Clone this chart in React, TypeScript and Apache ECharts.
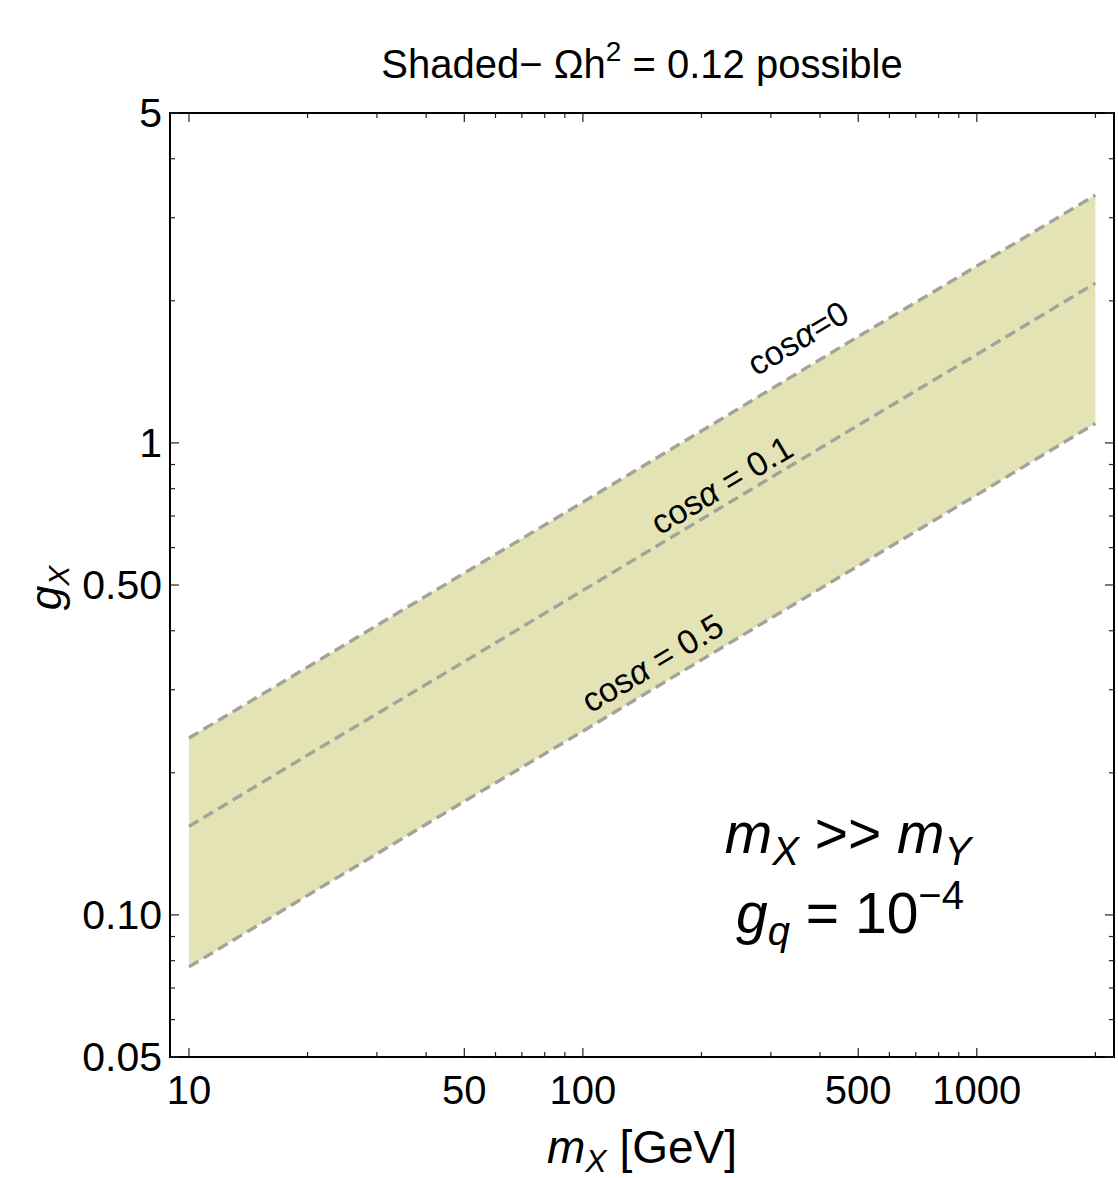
import React, { useEffect, useRef } from "react";
import * as echarts from "echarts";

// ---- data ----
const MASS = [10, 20, 50, 100, 200, 500, 1000, 2000];
const G_COS0 = [0.237, 0.335, 0.53, 0.749, 1.06, 1.68, 2.37, 3.35];
const G_COS01 = [0.154, 0.218, 0.344, 0.487, 0.689, 1.09, 1.54, 2.18];
const G_COS05 = [0.0776, 0.11, 0.174, 0.245, 0.347, 0.549, 0.776, 1.1];

const X_MIN = 8.95;
const X_MAX = 2230;
const Y_MIN = 0.05;
const Y_MAX = 5;

const X_MAJOR = [10, 50, 100, 500, 1000];
const X_MAJOR_LABELS = ["10", "50", "100", "500", "1000"];
const X_MINOR = [20, 30, 40, 60, 70, 80, 90, 200, 300, 400, 600, 700, 800, 900, 2000];
const Y_MAJOR = [0.05, 0.1, 0.5, 1, 5];
const Y_MAJOR_LABELS = ["0.05", "0.10", "0.50", "1", "5"];
const Y_MINOR = [0.06, 0.07, 0.08, 0.09, 0.2, 0.3, 0.4, 0.6, 0.7, 0.8, 0.9, 2, 3, 4];

// label anchors (data space) for the curve labels
const CURVE_LABELS = [
  { parts: ["cos", "α", "=0"], m: 351, g: 1.668, line: G_COS0 },
  { parts: ["cos", "α", " = 0.1"], m: 225, g: 0.815, line: G_COS01 },
  { parts: ["cos", "α", " = 0.5"], m: 150, g: 0.342, line: G_COS05 },
];

const FONT = "'Liberation Sans', Arial, Helvetica, sans-serif";
const BAND = "#e3e3b5";
const DASH = "#a3a39a";

export default function App() {
  const ref = useRef<HTMLDivElement>(null);

  useEffect(() => {
    const el = ref.current!;
    const chart = echarts.init(el, null, { renderer: "svg" });

    const lineSeries = (vals: number[]) => ({
      type: "line",
      data: MASS.map((m, i) => [m, vals[i]]),
      showSymbol: false,
      symbol: "none",
      silent: true,
      z: 3,
      lineStyle: { color: DASH, width: 3.4, type: [11, 6] },
    });

    chart.setOption({
      animation: false,
      grid: {
        left: 170,
        top: 113,
        width: 944,
        height: 944,
        show: true,
        borderColor: "#000",
        borderWidth: 2,
        backgroundColor: "transparent",
      },
      xAxis: {
        type: "log",
        logBase: 10,
        min: X_MIN,
        max: X_MAX,
        axisLine: { show: false },
        axisTick: { show: false },
        axisLabel: { show: false },
        splitLine: { show: false },
      },
      yAxis: {
        type: "log",
        logBase: 10,
        min: Y_MIN,
        max: Y_MAX,
        axisLine: { show: false },
        axisTick: { show: false },
        axisLabel: { show: false },
        splitLine: { show: false },
      },
      series: [
        {
          type: "custom",
          silent: true,
          z: 1,
          data: [[10, 0.1]],
          renderItem: (_params: any, api: any) => {
            const pts: number[][] = [];
            MASS.forEach((m, i) => pts.push(api.coord([m, G_COS0[i]])));
            for (let i = MASS.length - 1; i >= 0; i--) pts.push(api.coord([MASS[i], G_COS05[i]]));
            return { type: "polygon", shape: { points: pts }, style: { fill: BAND } };
          },
        },
        lineSeries(G_COS0),
        lineSeries(G_COS01),
        lineSeries(G_COS05),
      ],
    });

    const px = (v: number) => chart.convertToPixel({ xAxisIndex: 0 }, v) as number;
    const py = (v: number) => chart.convertToPixel({ yAxisIndex: 0 }, v) as number;
    const pt = (m: number, g: number) => chart.convertToPixel({ gridIndex: 0 }, [m, g]) as number[];

    const L = px(X_MIN);
    const R = px(X_MAX);
    const T = py(Y_MAX);
    const B = py(Y_MIN);

    const els: any[] = [];
    const tick = (x1: number, y1: number, x2: number, y2: number) =>
      els.push({
        type: "line",
        silent: true,
        z: 10,
        shape: { x1, y1, x2, y2 },
        style: { stroke: "#222", lineWidth: 1.2 },
      });

    const MAJ = 9;
    const MIN = 5;
    X_MAJOR.forEach((v) => {
      const x = px(v);
      tick(x, B, x, B - MAJ);
      tick(x, T, x, T + MAJ);
    });
    X_MINOR.forEach((v) => {
      const x = px(v);
      tick(x, B, x, B - MIN);
      tick(x, T, x, T + MIN);
    });
    Y_MAJOR.forEach((v) => {
      const y = py(v);
      tick(L, y, L + MAJ, y);
      tick(R, y, R - MAJ, y);
    });
    Y_MINOR.forEach((v) => {
      const y = py(v);
      tick(L, y, L + MIN, y);
      tick(R, y, R - MIN, y);
    });

    X_MAJOR.forEach((v, i) =>
      els.push({
        type: "text",
        silent: true,
        x: px(v),
        y: B + 33,
        style: {
          text: X_MAJOR_LABELS[i],
          fontFamily: FONT,
          fontSize: 40,
          fill: "#000",
          align: "center",
          verticalAlign: "middle",
        },
      })
    );
    Y_MAJOR.forEach((v, i) =>
      els.push({
        type: "text",
        silent: true,
        x: L - 8,
        y: py(v),
        style: {
          text: Y_MAJOR_LABELS[i],
          fontFamily: FONT,
          fontSize: 41,
          fill: "#000",
          align: "right",
          verticalAlign: "middle",
        },
      })
    );

    // title
    els.push({
      type: "text",
      silent: true,
      x: (L + R) / 2,
      y: 64,
      style: {
        text: "{a|Shaded− Ωh}{s|2}{a| = 0.12 possible}",
        align: "center",
        verticalAlign: "middle",
        fill: "#000",
        rich: {
          a: { fontFamily: FONT, fontSize: 40, lineHeight: 54, fill: "#000" },
          s: { fontFamily: FONT, fontSize: 28, lineHeight: 28, verticalAlign: "top", fill: "#000" },
        },
      },
    });

    // axis titles
    els.push({
      type: "text",
      silent: true,
      x: (L + R) / 2,
      y: 1147,
      style: {
        text: "{i|m}{s|X}{a| [GeV]}",
        align: "center",
        verticalAlign: "middle",
        rich: {
          i: { fontFamily: FONT, fontSize: 46, fontStyle: "italic", lineHeight: 60, fill: "#000" },
          s: { fontFamily: FONT, fontSize: 32, fontStyle: "italic", lineHeight: 34, verticalAlign: "bottom", fill: "#000" },
          a: { fontFamily: FONT, fontSize: 46, lineHeight: 60, fill: "#000" },
        },
      },
    });
    els.push({
      type: "text",
      silent: true,
      x: 45,
      y: 588,
      rotation: Math.PI / 2,
      style: {
        text: "{i|g}{s|X}",
        align: "center",
        verticalAlign: "middle",
        rich: {
          i: { fontFamily: FONT, fontSize: 44, fontStyle: "italic", lineHeight: 56, fill: "#000" },
          s: { fontFamily: FONT, fontSize: 30, fontStyle: "italic", lineHeight: 32, verticalAlign: "bottom", fill: "#000" },
        },
      },
    });

    // curve labels
    CURVE_LABELS.forEach((lab) => {
      const p1 = pt(MASS[0], lab.line[0]);
      const p2 = pt(MASS[MASS.length - 1], lab.line[lab.line.length - 1]);
      const ang = Math.atan2(-(p2[1] - p1[1]), p2[0] - p1[0]);
      const c = pt(lab.m, lab.g);
      els.push({
        type: "text",
        silent: true,
        z: 12,
        x: c[0],
        y: c[1],
        rotation: ang,
        style: {
          text: `{a|${lab.parts[0]}}{i|${lab.parts[1]}}{a|${lab.parts[2]}}`,
          align: "center",
          verticalAlign: "middle",
          rich: {
            a: { fontFamily: FONT, fontSize: 34, fill: "#000" },
            i: { fontFamily: FONT, fontSize: 34, fontStyle: "italic", fill: "#000" },
          },
        },
      });
    });

    // annotation
    els.push({
      type: "text",
      silent: true,
      z: 12,
      x: 848,
      y: 833,
      style: {
        text: "{i|m}{s|X}{a| >> }{i|m}{s|Y}",
        align: "center",
        verticalAlign: "middle",
        rich: {
          i: { fontFamily: FONT, fontSize: 57, fontStyle: "italic", lineHeight: 76, fill: "#000" },
          s: { fontFamily: FONT, fontSize: 40, fontStyle: "italic", lineHeight: 44, verticalAlign: "bottom", fill: "#000" },
          a: { fontFamily: FONT, fontSize: 57, lineHeight: 76, fill: "#000" },
        },
      },
    });
    els.push({
      type: "text",
      silent: true,
      z: 12,
      x: 850,
      y: 913,
      style: {
        text: "{i|g}{s|q}{a| = 10}{p|−4}",
        align: "center",
        verticalAlign: "middle",
        rich: {
          i: { fontFamily: FONT, fontSize: 57, fontStyle: "italic", lineHeight: 76, fill: "#000" },
          s: { fontFamily: FONT, fontSize: 40, fontStyle: "italic", lineHeight: 44, verticalAlign: "bottom", fill: "#000" },
          a: { fontFamily: FONT, fontSize: 57, lineHeight: 76, fill: "#000" },
          p: { fontFamily: FONT, fontSize: 40, lineHeight: 40, verticalAlign: "top", fill: "#000" },
        },
      },
    });

    chart.setOption({ graphic: els });

    return () => chart.dispose();
  }, []);

  return (
    <div
      ref={ref}
      style={{ position: "absolute", left: 0, top: 0, width: 1118, height: 1178 }}
    />
  );
}
